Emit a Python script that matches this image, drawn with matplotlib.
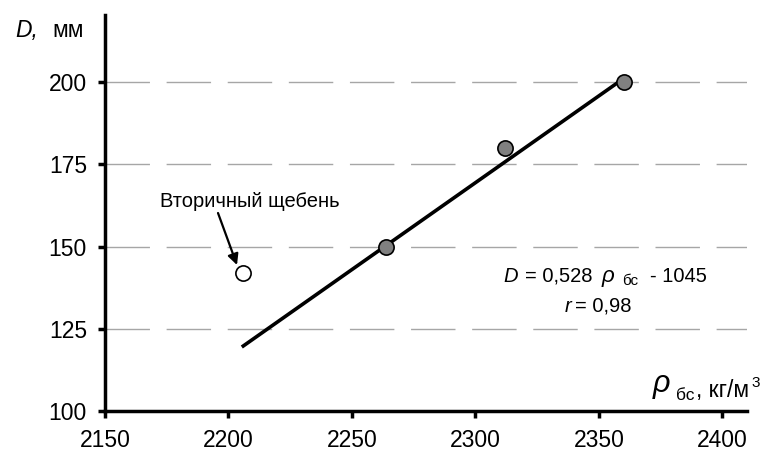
import matplotlib
matplotlib.use("Agg")
import matplotlib.pyplot as plt
import numpy as np

plt.rcParams['font.family'] = ['Liberation Sans', 'DejaVu Sans']

# data
x_main = [2264, 2312, 2360]
y_main = [150, 180, 200]
x_sec = [2206]
y_sec = [142]
slope, intercept = 0.528, -1045
x_fit = [2206, 2360]
x_ticks = [2150, 2200, 2250, 2300, 2350, 2400]
y_ticks = [100, 125, 150, 175, 200]

W, H = 771, 458
fig = plt.figure(figsize=(W / 100, H / 100), dpi=100)
ax = fig.add_axes([105 / W, 1 - 411 / H, (747 - 105) / W, (411 - 15) / H])

def fx(px):
    return px / W

def fy(py):
    return 1 - py / H

def t(px, py, s, size, italic=False):
    fig.text(fx(px), fy(py), s, fontsize=size, style='italic' if italic else 'normal',
             ha='left', va='baseline')

ax.set_xlim(2150, 2410)
ax.set_ylim(100, 220.4)
for s in ['top', 'right']:
    ax.spines[s].set_visible(False)
for s in ['left', 'bottom']:
    ax.spines[s].set_linewidth(2.5)

ax.set_xticks(x_ticks)
ax.set_yticks(y_ticks)
ax.tick_params(axis='both', direction='out', length=5, width=2.5, labelsize=16.5, pad=8)

for yv in y_ticks[1:]:
    ax.axhline(yv, color='#a6a6a6', lw=1.0, dashes=(32, 12), zorder=0)

y_fit = [slope * v + intercept for v in x_fit]
ax.plot(x_fit, y_fit, color='black', lw=2.6, zorder=2)
ax.scatter(x_main, y_main, s=120, facecolor='#808080', edgecolor='black', lw=1.2, zorder=3)
ax.scatter(x_sec, y_sec, s=120, facecolor='white', edgecolor='black', lw=1.2, zorder=3)

# annotation
t(160, 207, 'Вторичный щебень', 14.5)
ax.annotate('', xy=(fx(237), fy(265)), xytext=(fx(218), fy(213)),
            xycoords='figure fraction', textcoords='figure fraction',
            arrowprops=dict(arrowstyle='-|>', color='black', lw=1.6, mutation_scale=16,
                            shrinkA=0, shrinkB=0))

# y label
t(15, 37, 'D,', 16.5, italic=True)
t(52, 37, 'мм', 16.5)

# x label
t(653, 392, 'ρ', 22, italic=True)
t(676, 400, 'бс', 12.5)
t(696, 397, ', кг/м', 16.5)
t(751, 387, '3', 11)

# equation
t(503, 282, 'D', 14.5, italic=True)
t(525, 282, '= 0,528', 14.5)
t(602, 282, 'ρ', 16, italic=True)
t(622, 285, 'бс', 11)
t(650, 282, '- 1045', 14.5)
t(565, 312, 'r', 14.5, italic=True)
t(575, 312, '= 0,98', 14.5)

fig.savefig('out.png', dpi=100)
